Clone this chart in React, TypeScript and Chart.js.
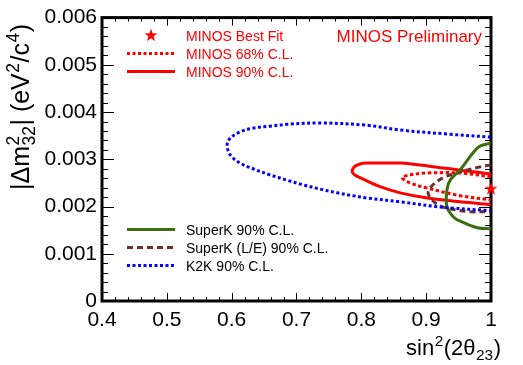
import React, { useEffect, useRef } from "react";
import { Chart, registerables } from "chart.js";
Chart.register(...registerables);

const FONT = "'Liberation Sans', Arial, Helvetica, sans-serif";

// Axis ticks
const xTicks = [0.4, 0.5, 0.6, 0.7, 0.8, 0.9, 1.0];
const yTicks = [0, 0.001, 0.002, 0.003, 0.004, 0.005, 0.006];

// K2K 90% C.L. (blue dotted)
const k2kX = [1.0, 0.937, 0.86, 0.809, 0.736, 0.685, 0.659, 0.633, 0.613, 0.598, 0.593, 0.598, 0.613, 0.633, 0.659, 0.685, 0.71, 0.736, 0.763, 0.787, 0.809, 0.86, 0.922, 1.0];
const k2kY = [0.00347, 0.00353, 0.00362, 0.00372, 0.00377, 0.00374, 0.0037, 0.00366, 0.00358, 0.00345, 0.0033, 0.00309, 0.00292, 0.0028, 0.00267, 0.00256, 0.00246, 0.00237, 0.00229, 0.00223, 0.00218, 0.0021, 0.00199, 0.00191];

// MINOS 90% C.L. (red solid)
const minos90X = [1.0, 0.952, 0.902, 0.86, 0.829, 0.809, 0.798, 0.789, 0.786, 0.792, 0.798, 0.829, 0.86, 0.902, 0.952, 1.0];
const minos90Y = [0.00269, 0.00277, 0.00286, 0.00292, 0.00292, 0.00292, 0.0029, 0.00284, 0.00273, 0.00265, 0.00261, 0.00242, 0.00229, 0.00218, 0.0021, 0.00204];

// MINOS 68% C.L. (red dotted)
const minos68X = [1.0, 0.952, 0.902, 0.875, 0.863, 0.875, 0.902, 0.952, 1.0];
const minos68Y = [0.00263, 0.00271, 0.00271, 0.00267, 0.00261, 0.0025, 0.00239, 0.00223, 0.00214];

// SuperK 90% C.L. (green solid)
const superkX = [1.0, 0.983, 0.973, 0.952, 0.937, 0.932, 0.932, 0.942, 0.948, 0.979, 1.0];
const superkY = [0.00334, 0.00328, 0.00315, 0.00277, 0.00256, 0.00235, 0.00199, 0.00178, 0.00172, 0.00155, 0.00153];

// SuperK (L/E) 90% C.L. (brown dashed)
const superkLEX = [1.0, 0.983, 0.952, 0.926, 0.909, 0.903, 0.909, 0.922, 0.945, 0.968, 1.0];
const superkLEY = [0.00288, 0.00284, 0.00273, 0.00261, 0.00244, 0.00229, 0.00214, 0.00201, 0.00193, 0.00189, 0.00189];

// MINOS best fit
const bestFitX = [1.0];
const bestFitY = [0.00238];

const legendTop = ["MINOS Best Fit", "MINOS 68% C.L.", "MINOS 90% C.L."];
const legendBottom = ["SuperK 90% C.L.", "SuperK (L/E) 90% C.L.", "K2K 90% C.L."];
const preliminaryText = "MINOS Preliminary";

const RED = "#ff0000";
const BLUE = "#0000ff";
const GREEN = "#3c6e0f";
const BROWN = "#6e2f2f";

function zip(xs: number[], ys: number[]) {
  return xs.map((x, i) => ({ x, y: ys[i] }));
}

function starPath(ctx: CanvasRenderingContext2D, cx: number, cy: number, R: number, r: number) {
  ctx.beginPath();
  for (let i = 0; i < 10; i++) {
    const rad = i % 2 === 0 ? R : r;
    const a = -Math.PI / 2 + (i * Math.PI) / 5;
    const px = cx + rad * Math.cos(a);
    const py = cy + rad * Math.sin(a);
    if (i === 0) ctx.moveTo(px, py);
    else ctx.lineTo(px, py);
  }
  ctx.closePath();
}

function makeStar(): HTMLCanvasElement {
  const c = document.createElement("canvas");
  c.width = 16;
  c.height = 16;
  const g = c.getContext("2d")!;
  g.fillStyle = RED;
  starPath(g, 8, 8.5, 6.8, 2.7);
  g.fill();
  return c;
}

type Tok = { t: string; k: "n" | "sup" | "sub" | "ss"; t2?: string };

function drawRich(ctx: CanvasRenderingContext2D, toks: Tok[], size: number, align: "left" | "center" | "right") {
  const small = size * 0.7;
  const f = (s: number) => `${s}px ${FONT}`;
  const widths = toks.map((tk) => {
    if (tk.k === "n") { ctx.font = f(size); return ctx.measureText(tk.t).width; }
    ctx.font = f(small);
    if (tk.k === "ss") return Math.max(ctx.measureText(tk.t).width, ctx.measureText(tk.t2 || "").width) + 1;
    return ctx.measureText(tk.t).width + 1;
  });
  const total = widths.reduce((a, b) => a + b, 0);
  let x = align === "left" ? 0 : align === "center" ? -total / 2 : -total;
  ctx.textAlign = "left";
  ctx.textBaseline = "alphabetic";
  toks.forEach((tk, i) => {
    if (tk.k === "n") {
      ctx.font = f(size);
      ctx.fillText(tk.t, x, 0);
    } else {
      ctx.font = f(small);
      if (tk.k === "sup" || tk.k === "ss") ctx.fillText(tk.t, x + 0.5, -size * 0.42);
      if (tk.k === "sub") ctx.fillText(tk.t, x + 0.5, size * 0.22);
      if (tk.k === "ss") ctx.fillText(tk.t2 || "", x + 0.5, size * 0.22);
    }
    x += widths[i];
  });
}

const yTitle: Tok[] = [
  { t: "|\u0394m", k: "n" },
  { t: "2", t2: "32", k: "ss" },
  { t: "| (eV", k: "n" },
  { t: "2", k: "sup" },
  { t: "/c", k: "n" },
  { t: "4", k: "sup" },
  { t: ")", k: "n" },
];
const xTitle: Tok[] = [
  { t: "sin", k: "n" },
  { t: "2", k: "sup" },
  { t: "(2\u03b8", k: "n" },
  { t: "23", k: "sub" },
  { t: ")", k: "n" },
];

const framePlugin = {
  id: "rootFrame",
  beforeDatasetsDraw(chart: any) {
    const { ctx, chartArea: a, scales } = chart;
    const xs = scales.x, ys = scales.y;
    ctx.save();
    ctx.strokeStyle = "#000";
    ctx.lineWidth = 1;
    ctx.beginPath();
    for (let i = 0; i <= 30; i++) {
      const v = 0.4 + i * 0.02;
      const px = Math.round(xs.getPixelForValue(v)) + 0.5;
      const len = i % 5 === 0 ? 8 : 4;
      ctx.moveTo(px, a.bottom); ctx.lineTo(px, a.bottom - len);
      ctx.moveTo(px, a.top); ctx.lineTo(px, a.top + len);
    }
    for (let i = 0; i <= 30; i++) {
      const v = i * 0.0002;
      const py = Math.round(ys.getPixelForValue(v)) + 0.5;
      const len = i % 5 === 0 ? 12 : 6;
      ctx.moveTo(a.left, py); ctx.lineTo(a.left + len, py);
      ctx.moveTo(a.right, py); ctx.lineTo(a.right - len, py);
    }
    ctx.stroke();
    ctx.lineWidth = 3;
    ctx.strokeRect(a.left, a.top, a.right - a.left, a.bottom - a.top);
    ctx.restore();
  },
  afterDraw(chart: any) {
    const { ctx } = chart;
    ctx.save();
    // axis titles
    ctx.fillStyle = "#000";
    ctx.save();
    ctx.translate(29, 107);
    ctx.rotate(-Math.PI / 2);
    drawRich(ctx, yTitle, 25, "center");
    ctx.restore();
    ctx.save();
    ctx.translate(501, 355);
    drawRich(ctx, xTitle, 22, "right");
    ctx.restore();

    // preliminary label
    ctx.fillStyle = RED;
    ctx.font = `17px ${FONT}`;
    ctx.textAlign = "right";
    ctx.textBaseline = "alphabetic";
    ctx.fillText(preliminaryText, 482, 42);

    // legends
    const lx0 = 127, lx1 = 175, tx = 186;
    ctx.textAlign = "left";
    ctx.font = `14px ${FONT}`;
    // top legend
    const topY = [35.5, 53.5, 71.5];
    ctx.fillStyle = RED;
    starPath(ctx, 151, topY[0], 6.8, 2.7);
    ctx.fill();
    ctx.lineWidth = 3;
    ctx.strokeStyle = RED;
    ctx.setLineDash([3, 2.5]);
    ctx.beginPath(); ctx.moveTo(lx0, topY[1]); ctx.lineTo(lx1, topY[1]); ctx.stroke();
    ctx.setLineDash([]);
    ctx.beginPath(); ctx.moveTo(lx0, topY[2]); ctx.lineTo(lx1, topY[2]); ctx.stroke();
    legendTop.forEach((s, i) => ctx.fillText(s, tx, topY[i] + 5.5));

    // bottom legend
    const botY = [229.5, 247.5, 265.5];
    ctx.strokeStyle = GREEN;
    ctx.beginPath(); ctx.moveTo(lx0, botY[0]); ctx.lineTo(lx1, botY[0]); ctx.stroke();
    ctx.strokeStyle = BROWN;
    ctx.setLineDash([6, 4]);
    ctx.beginPath(); ctx.moveTo(lx0, botY[1]); ctx.lineTo(lx1, botY[1]); ctx.stroke();
    ctx.strokeStyle = BLUE;
    ctx.setLineDash([3, 2.5]);
    ctx.beginPath(); ctx.moveTo(lx0, botY[2]); ctx.lineTo(lx1, botY[2]); ctx.stroke();
    ctx.setLineDash([]);
    ctx.fillStyle = "#000";
    legendBottom.forEach((s, i) => ctx.fillText(s, tx, botY[i] + 5));
    ctx.restore();
  },
};

export default function App() {
  const ref = useRef<HTMLCanvasElement | null>(null);
  useEffect(() => {
    if (!ref.current) return;
    const star = makeStar();
    const line = (data: any, color: string, dash: number[], tension = 0.35) => ({
      data,
      borderColor: color,
      backgroundColor: color,
      borderWidth: 3,
      borderDash: dash,
      borderCapStyle: "butt",
      pointRadius: 0,
      showLine: true,
      fill: false,
      tension,
    });
    const chart = new Chart(ref.current, {
      type: "scatter",
      data: {
        datasets: [
          line(zip(k2kX, k2kY), BLUE, [3, 2.5]) as any,
          line(zip(superkX, superkY), GREEN, []) as any,
          line(zip(superkLEX, superkLEY), BROWN, [6, 4]) as any,
          line(zip(minos90X, minos90Y), RED, []) as any,
          line(zip(minos68X, minos68Y), RED, [3.5, 2.5]) as any,
          {
            data: zip(bestFitX, bestFitY),
            pointStyle: star,
            pointRadius: 8,
            showLine: false,
            clip: 12,
          } as any,
        ],
      },
      options: {
        responsive: false,
        animation: false,
        devicePixelRatio: 1,
        events: [],
        layout: { padding: { top: 17, right: 32, left: 0, bottom: 0 } },
        plugins: { legend: { display: false }, tooltip: { enabled: false } },
        scales: {
          x: {
            type: "linear",
            min: 0.4,
            max: 1.0,
            afterFit(s: any) { s.height = 64; },
            afterBuildTicks(s: any) { s.ticks = xTicks.map((v) => ({ value: v })); },
            grid: { display: false, drawTicks: false },
            border: { display: false },
            ticks: {
              autoSkip: false,
              maxRotation: 0,
              padding: 7,
              color: "#000",
              font: { family: FONT, size: 21 },
              callback: (v: any) => (Math.abs(v - 1) < 1e-9 ? "1" : Number(v).toFixed(1)),
            },
          },
          y: {
            type: "linear",
            min: 0,
            max: 0.006,
            afterFit(s: any) { s.width = 102; },
            afterBuildTicks(s: any) { s.ticks = yTicks.map((v) => ({ value: v })); },
            grid: { display: false, drawTicks: false },
            border: { display: false },
            ticks: {
              autoSkip: false,
              padding: 5,
              color: "#000",
              font: { family: FONT, size: 21 },
              callback: (v: any) => (Math.abs(v) < 1e-12 ? "0" : Number(v).toFixed(3)),
            },
          },
        },
      },
      plugins: [framePlugin as any],
    });
    return () => chart.destroy();
  }, []);
  return (
    <div style={{ position: "fixed", left: 0, top: 0, width: 523, height: 365, background: "#fff" }}>
      <canvas ref={ref} width={523} height={365} style={{ display: "block", width: 523, height: 365 }} />
    </div>
  );
}
